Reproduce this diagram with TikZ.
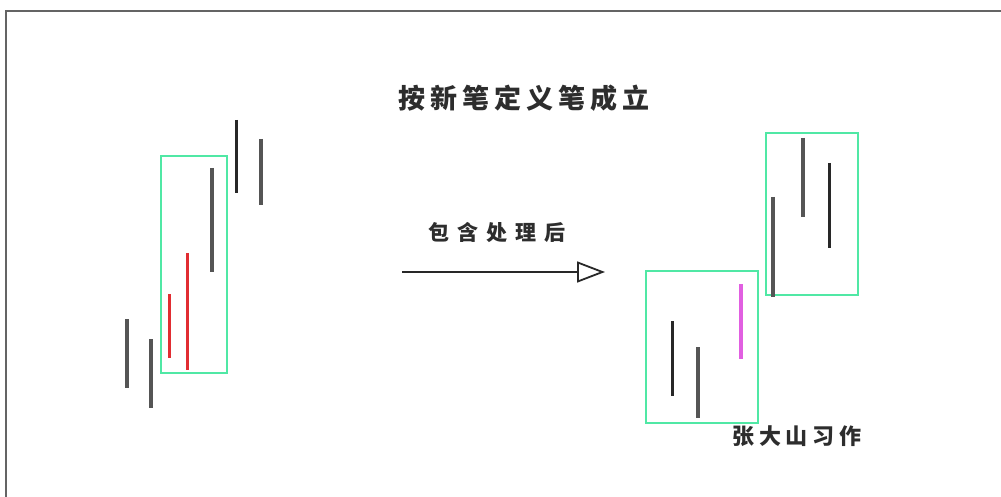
\documentclass[tikz,border=0pt]{standalone}
\usepackage{fontspec}
\newfontfamily\cjktitle[LetterSpace=19]{Noto Sans CJK SC}
\newfontfamily\cjklabel[LetterSpace=38]{Noto Sans CJK SC}
\newfontfamily\cjkauthor[LetterSpace=22]{Noto Sans CJK SC}
\usetikzlibrary{arrows.meta}
\definecolor{boxgreen}{RGB}{80,232,165}
\definecolor{barred}{RGB}{225,45,50}
\definecolor{barmag}{RGB}{225,95,225}
\definecolor{bargray}{RGB}{85,85,85}
\definecolor{bardark}{RGB}{40,40,40}
\definecolor{framegray}{RGB}{100,100,100}
\definecolor{txtgray}{RGB}{45,45,45}
\tikzset{
  bar/.style={line width=3.2pt, bargray},
  darkbar/.style={line width=3pt, bardark},
  redbar/.style={line width=3pt, barred},
  magbar/.style={line width=3.2pt, barmag},
  kbox/.style={draw=boxgreen, line width=2.8pt},
  lbl/.style={text=txtgray, inner sep=0pt},
}
\begin{document}
\begin{tikzpicture}[x=1pt,y=-1pt]
\useasboundingbox (0,0) rectangle (1001,497);
\fill[white] (0,0) rectangle (1001,497);
% frame
\draw[framegray, line width=2.4pt] (6,497) -- (6,11) -- (1001,11);
% title
\node[lbl, font=\cjktitle\bfseries\fontsize{27}{27}\selectfont] (title) at (524,98) {按新笔定义笔成立};
% left group
\draw[kbox] (161,156) rectangle (227,373);
\draw[bar] (127,319) -- (127,388);
\draw[bar] (151,339) -- (151,408);
\draw[redbar] (169,294) -- (169,358);
\draw[redbar] (187,253) -- (187,370);
\draw[bar] (212,168) -- (212,272);
\draw[darkbar] (236,120) -- (236,193);
\draw[bar] (261,139) -- (261,205);
% arrow
\node[lbl, font=\cjklabel\bfseries\fontsize{21}{21}\selectfont] (proc) at (497,232) {包含处理后};
\coordinate (astart) at (402,272);
\coordinate (aend) at (605,272);
\draw[line width=1.8pt, bardark, -{Triangle[open, length=28pt, width=21pt, line width=1.8pt]}] (astart) -- (aend);
% right group
\draw[kbox] (766,133) rectangle (858,295);
\draw[bar] (773,197) -- (773,297);
\draw[bar] (803,138) -- (803,217);
\draw[darkbar] (829,163) -- (829,248);
\draw[kbox] (646,271) rectangle (758,423);
\draw[darkbar] (672,321) -- (672,396);
\draw[bar] (698,347) -- (698,418);
\draw[magbar] (741,284) -- (741,359);
\node[lbl, font=\cjkauthor\bfseries\fontsize{22}{22}\selectfont] (author) at (797,436) {张大山习作};
\end{tikzpicture}
\end{document}
